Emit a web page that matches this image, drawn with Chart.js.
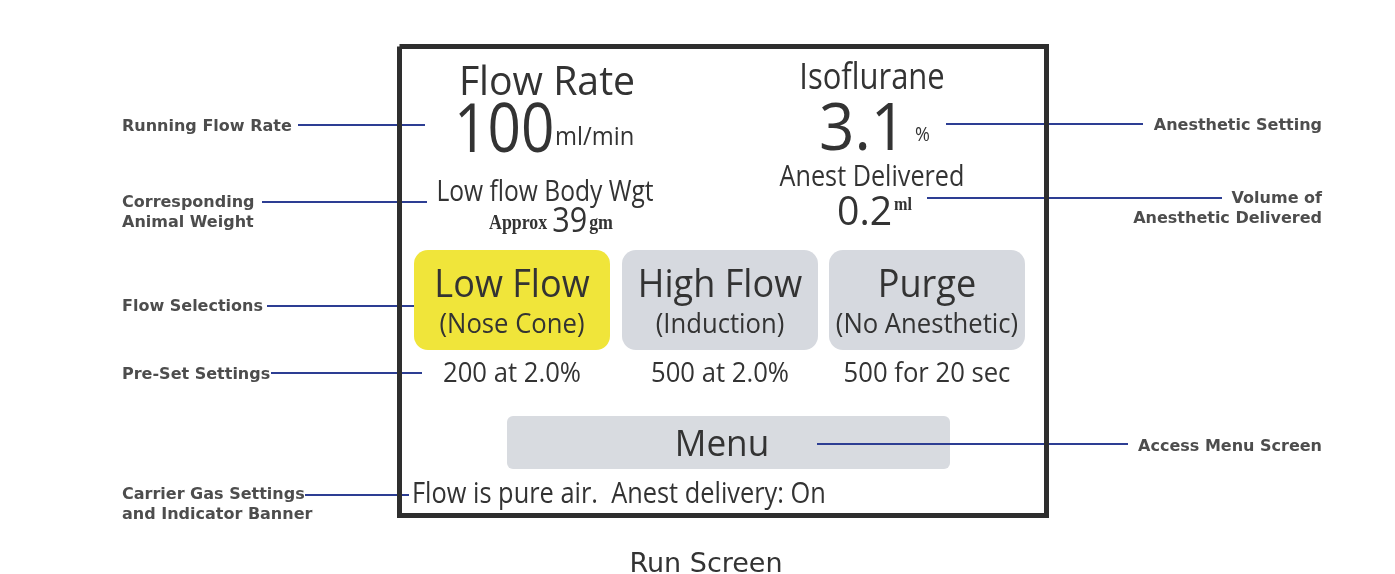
<!DOCTYPE html>
<html>
<head>
<meta charset="utf-8">
<script src="https://cdn.jsdelivr.net/npm/chart.js@4.4.0/dist/chart.umd.min.js"></script>
<style>
  html, body { margin: 0; padding: 0; background: #ffffff; }
  canvas { display: block; }
</style>
</head>
<body>
<canvas id="run-screen" width="1395" height="574"></canvas>
<script>
// readouts shown on the screen
const flowRate = 100;
const flowUnit = "ml/min";
const isoflurane = 3.1;
const isoUnit = "%";
const delivered = 0.2;
const deliveredUnit = "ml";
const bodyWeight = 39;
const bodyWeightUnit = "gm";

// flow selection buttons
const modes = ["Low Flow", "High Flow", "Purge"];
const modeNotes = ["(Nose Cone)", "(Induction)", "(No Anesthetic)"];
const presets = ["200 at 2.0%", "500 at 2.0%", "500 for 20 sec"];
const activeMode = 0;
const bannerText = "Flow is pure air.  Anest delivery: On";
const caption = "Run Screen";

// callouts
const leftLabels = [
  ["Running Flow Rate"],
  ["Corresponding", "Animal Weight"],
  ["Flow Selections"],
  ["Pre-Set Settings"],
  ["Carrier Gas Settings", "and Indicator Banner"],
];
const rightLabels = [
  ["Anesthetic Setting"],
  ["Volume of", "Anesthetic Delivered"],
  ["Access Menu Screen"],
];

// layout (diagram units = pixels of the 1395x574 picture)
const W = 1395, H = 574;
const leftLineY = [125, 202, 306, 373, 495];
const leftLineFrom = [298, 262, 267, 271, 305];
const leftLineTo = [425, 427, 414, 422, 409];
const leftTextBase = [131, 207, 311, 379, 499];
const rightLineY = [124, 198, 444];
const rightLineFrom = [946, 927, 817];
const rightLineTo = [1143, 1222, 1128];
const rightTextBase = [130, 203, 451];
const frameX = [399.5, 1046.5, 1046.5, 399.5, 399.5];
const frameY = [46.5, 46.5, 515.5, 515.5, 46.5];
const modeLeft = [414, 622, 829];
const modeRight = [610, 818, 1025];

const INK = "#333333";
const LABEL_INK = "#4d4d4d";
const NAVY = "#2d3e93";
const SANS = '"Open Sans", "Noto Sans", sans-serif';
const SERIF = '"Liberation Serif", "DejaVu Serif", serif';
const CALLOUT = 'bold 16px "DejaVu Sans", sans-serif';

function put(ctx, text, x, y, font, align, sx, color) {
  ctx.save();
  ctx.font = font;
  ctx.fillStyle = color || INK;
  ctx.textAlign = align;
  ctx.textBaseline = "alphabetic";
  ctx.translate(x, y);
  ctx.scale(sx, 1);
  ctx.fillText(text, 0, 0);
  ctx.restore();
}

function widthOf(ctx, text, font, sx) {
  ctx.save();
  ctx.font = font;
  const w = ctx.measureText(text).width * sx;
  ctx.restore();
  return w;
}

function roundBox(ctx, x0, y0, x1, y1, r, fill) {
  ctx.save();
  ctx.beginPath();
  ctx.roundRect(x0, y0, x1 - x0, y1 - y0, r);
  ctx.fillStyle = fill;
  ctx.fill();
  ctx.restore();
}

const screenPlugin = {
  id: "screen",
  beforeDatasetsDraw(chart) {
    const ctx = chart.ctx;
    const sx = chart.scales.x, sy = chart.scales.y;
    modes.forEach((m, i) => {
      roundBox(ctx, sx.getPixelForValue(modeLeft[i]), sy.getPixelForValue(250),
        sx.getPixelForValue(modeRight[i]), sy.getPixelForValue(350), 14,
        i === activeMode ? "#f0e53a" : "#d6d9df");
    });
    roundBox(ctx, sx.getPixelForValue(507), sy.getPixelForValue(416),
      sx.getPixelForValue(950), sy.getPixelForValue(469), 6, "#d8dbe0");
  },
  afterDatasetsDraw(chart) {
    const ctx = chart.ctx;
    const X = (v) => chart.scales.x.getPixelForValue(v);
    const Y = (v) => chart.scales.y.getPixelForValue(v);

    // flow rate block
    put(ctx, "Flow Rate", X(547), Y(95), "40px " + SANS, "center", 0.98);
    put(ctx, String(flowRate), X(454), Y(152), "68px " + SANS, "left", 0.86);
    put(ctx, flowUnit, X(555), Y(145), "25px " + SANS, "left", 0.95);

    // body weight block
    put(ctx, "Low flow Body Wgt", X(545), Y(201), "30px " + SANS, "center", 0.82);
    const fA = "bold 21px " + SERIF, fN = "34px " + SANS, fG = "bold 21px " + SERIF;
    const wA = widthOf(ctx, "Approx", fA, 0.85);
    const wN = widthOf(ctx, String(bodyWeight), fN, 0.9);
    const wG = widthOf(ctx, bodyWeightUnit, fG, 0.85);
    let bx = X(551) - (wA + 5 + wN + 2 + wG) / 2;
    put(ctx, "Approx", bx, Y(229), fA, "left", 0.85);
    bx += wA + 5;
    put(ctx, String(bodyWeight), bx, Y(232), fN, "left", 0.9);
    bx += wN + 2;
    put(ctx, bodyWeightUnit, bx, Y(229), fG, "left", 0.85);

    // isoflurane block
    put(ctx, "Isoflurane", X(872), Y(89), "36px " + SANS, "center", 0.86);
    put(ctx, isoflurane.toFixed(1), X(819), Y(150), "66px " + SANS, "left", 0.94);
    put(ctx, isoUnit, X(915), Y(141), "20px " + SANS, "left", 0.9);
    put(ctx, "Anest Delivered", X(872), Y(186), "30px " + SANS, "center", 0.84);
    put(ctx, delivered.toFixed(1), X(837), Y(225), "40px " + SANS, "left", 0.98);
    put(ctx, deliveredUnit, X(894), Y(210), "bold 18px " + SERIF, "left", 0.9);

    // buttons
    modes.forEach((m, i) => {
      const cx = X((modeLeft[i] + modeRight[i]) / 2);
      put(ctx, m, cx, Y(297), "38px " + SANS, "center", 0.95);
      put(ctx, modeNotes[i], cx, Y(333), "27px " + SANS, "center", 0.95);
      put(ctx, presets[i], cx, Y(382), "27px " + SANS, "center", 0.95);
    });
    put(ctx, "Menu", X(722), Y(456), "37px " + SANS, "center", 0.95);
    put(ctx, bannerText, X(412), Y(503), "29px " + SANS, "left", 0.875);

    // callout labels
    leftLabels.forEach((lines, i) => {
      lines.forEach((t, k) => {
        put(ctx, t, X(122), Y(leftTextBase[i] + k * 20), CALLOUT, "left", 1, LABEL_INK);
      });
    });
    rightLabels.forEach((lines, i) => {
      lines.forEach((t, k) => {
        put(ctx, t, X(1322), Y(rightTextBase[i] + k * 20), CALLOUT, "right", 1, LABEL_INK);
      });
    });

    put(ctx, caption, X(706), Y(572), '27px "DejaVu Sans", sans-serif', "center", 1, "#333333");
  },
};

const datasets = [
  {
    label: "frame",
    data: frameX.map((x, i) => ({ x: x, y: frameY[i] })),
    showLine: true,
    borderColor: "#2e2e2e",
    borderWidth: 5,
    borderJoinStyle: "miter",
    pointRadius: 0,
  },
];
leftLineY.forEach((y, i) => {
  datasets.push({
    label: leftLabels[i].join(" "),
    data: [{ x: leftLineFrom[i], y: y }, { x: leftLineTo[i], y: y }],
    showLine: true,
    borderColor: NAVY,
    borderWidth: 2,
    pointRadius: 0,
  });
});
rightLineY.forEach((y, i) => {
  datasets.push({
    label: rightLabels[i].join(" "),
    data: [{ x: rightLineFrom[i], y: y }, { x: rightLineTo[i], y: y }],
    showLine: true,
    borderColor: NAVY,
    borderWidth: 2,
    pointRadius: 0,
  });
});

new Chart(document.getElementById("run-screen"), {
  type: "scatter",
  data: { datasets: datasets },
  options: {
    responsive: false,
    animation: false,
    devicePixelRatio: 1,
    layout: { padding: 0 },
    scales: {
      x: { type: "linear", min: 0, max: W, display: false },
      y: { type: "linear", min: 0, max: H, reverse: true, display: false },
    },
    plugins: {
      legend: { display: false },
      tooltip: { enabled: false },
    },
  },
  plugins: [screenPlugin],
});
</script>
</body>
</html>
